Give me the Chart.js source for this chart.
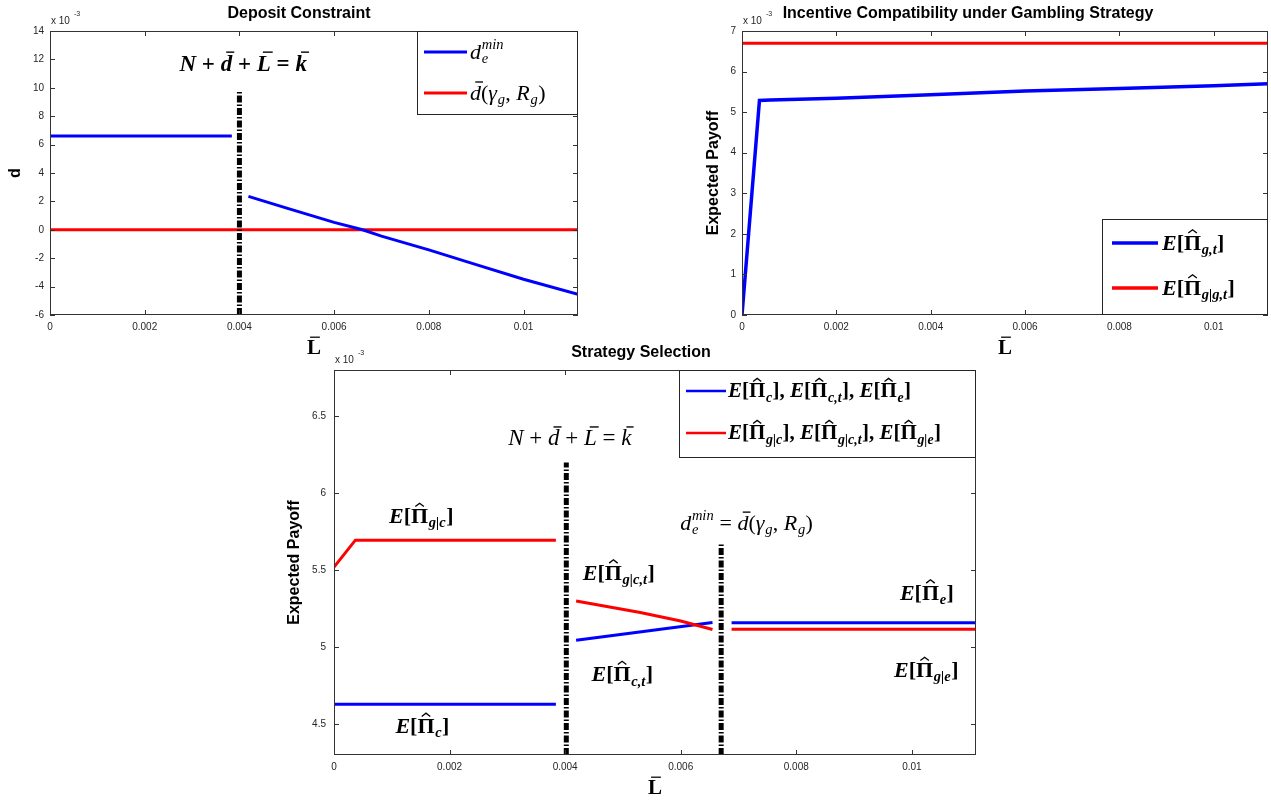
<!DOCTYPE html>
<html><head><meta charset="utf-8">
<script src="https://cdn.jsdelivr.net/npm/chart.js@4/dist/chart.umd.min.js"></script>
<style>
html,body{margin:0;padding:0;background:#fff;width:1271px;height:800px;overflow:hidden;position:relative}
canvas{position:absolute}
</style></head><body>
<canvas id="c1" width="620" height="355" style="left:0px;top:0px;width:620px;height:355px"></canvas>
<canvas id="c2" width="591" height="355" style="left:680px;top:0px;width:591px;height:355px"></canvas>
<canvas id="c3" width="740" height="462" style="left:260px;top:338px;width:740px;height:462px"></canvas>
<script>
// ---------- data (y values in units of 10^-3) ----------
const xTicks = [0, 0.002, 0.004, 0.006, 0.008, 0.01];
const xTickLabels = ['0', '0.002', '0.004', '0.006', '0.008', '0.01'];
const xMax = 0.01115;

// Plot 1: Deposit Constraint
const p1YTicks = [-6, -4, -2, 0, 2, 4, 6, 8, 10, 12, 14];
const p1YTickLabels = ['-6', '-4', '-2', '0', '2', '4', '6', '8', '10', '12', '14'];
const p1BlueAX = [0, 0.00384];
const p1BlueAY = [6.6, 6.6];
const p1BlueBX = [0.00419, 0.005, 0.006, 0.0066, 0.007, 0.008, 0.009, 0.01, 0.01115];
const p1BlueBY = [2.35, 1.53, 0.52, 0.0, -0.45, -1.41, -2.45, -3.48, -4.54];
const p1RedX = [0, 0.01115];
const p1RedY = [0.0, 0.0];
const p1KX = [0.004, 0.004];
const p1KY = [-6, 9.7];

// Plot 2: Incentive Compatibility under Gambling Strategy
const p2YTicks = [0, 1, 2, 3, 4, 5, 6, 7];
const p2YTickLabels = ['0', '1', '2', '3', '4', '5', '6', '7'];
const p2BlueX = [0, 0.00037, 0.0006, 0.002, 0.004, 0.006, 0.008, 0.01, 0.01115];
const p2BlueY = [0, 5.29, 5.30, 5.34, 5.43, 5.52, 5.58, 5.65, 5.70];
const p2RedX = [0, 0.01115];
const p2RedY = [6.7, 6.7];

// Plot 3: Strategy Selection
const p3YTicks = [4.5, 5, 5.5, 6, 6.5];
const p3YTickLabels = ['4.5', '5', '5.5', '6', '6.5'];
const p3BlueCX = [0, 0.00384];
const p3BlueCY = [4.63, 4.63];
const p3RedCX = [0, 0.00037, 0.00384];
const p3RedCY = [5.52, 5.695, 5.695];
const p3RedCtX = [0.00419, 0.0053, 0.006, 0.00655];
const p3RedCtY = [5.30, 5.225, 5.17, 5.115];
const p3BlueCtX = [0.00419, 0.00655];
const p3BlueCtY = [5.045, 5.16];
const p3BlueEX = [0.00688, 0.01115];
const p3BlueEY = [5.158, 5.158];
const p3RedEX = [0.00688, 0.01115];
const p3RedEY = [5.117, 5.117];
const p3K1X = [0.00402, 0.00402];
const p3K1Y = [4.3, 6.2];
const p3K2X = [0.0067, 0.0067];
const p3K2Y = [4.3, 5.68];

// ---------- helpers ----------
Chart.defaults.font.family = '"Liberation Sans", Arial, sans-serif';
Chart.defaults.font.size = 10;
Chart.defaults.color = '#262626';

const BLUE = '#0000ff', RED = '#ff0000', BLACK = '#000000';
function pts(xs, ys) { return xs.map((x, i) => ({x: x, y: ys[i]})); }
function ln(xs, ys, color, width, dash, cap) {
  return {data: pts(xs, ys), borderColor: color, borderWidth: width, borderDash: dash || [],
    borderCapStyle: cap || 'butt', pointRadius: 0, fill: false, tension: 0, showLine: true};
}

function mfont(size, p) {
  return (p.i ? 'italic ' : '') + (p.b ? 'bold ' : '') + size.toFixed(1) + 'px "Liberation Serif", "DejaVu Serif", serif';
}
const I = (t, o) => Object.assign({t: t, i: true, b: true}, o || {});
const R = (t, o) => Object.assign({t: t, i: false, b: true}, o || {});
const Il = (t, o) => Object.assign({t: t, i: true, b: false}, o || {});
const Rl = (t, o) => Object.assign({t: t, i: false, b: false}, o || {});
const EPi = sub => [I('E'), R('['), R('\u03A0', {acc: 'hat', sub: sub}), R(']')];

function partW(ctx, p, size) {
  ctx.font = mfont(size, p);
  const w = ctx.measureText(p.t).width;
  let ex = 0;
  const sf = {i: true, b: p.b};
  if (p.sub) { ctx.font = mfont(size * 0.66, sf); ex = Math.max(ex, ctx.measureText(p.sub).width); }
  if (p.sup) { ctx.font = mfont(size * 0.66, sf); ex = Math.max(ex, ctx.measureText(p.sup).width); }
  return {w: w, ex: ex, tot: w + (ex ? ex + size * 0.05 : 0)};
}
function drawMath(ctx, parts, x, y, size, align, color) {
  const ws = parts.map(p => partW(ctx, p, size));
  const total = ws.reduce((a, b) => a + b.tot, 0);
  let cx = align === 'center' ? x - total / 2 : (align === 'right' ? x - total : x);
  ctx.fillStyle = color || BLACK; ctx.strokeStyle = color || BLACK;
  ctx.textBaseline = 'alphabetic'; ctx.textAlign = 'left';
  parts.forEach((p, k) => {
    const m = ws[k];
    ctx.font = mfont(size, p);
    ctx.fillText(p.t, cx, y);
    if (p.acc === 'bar') {
      const sl = p.i ? size * 0.13 : 0;
      ctx.lineWidth = Math.max(1, size * 0.06);
      ctx.beginPath();
      ctx.moveTo(cx + m.w * 0.22 + sl, y - size * 0.8);
      ctx.lineTo(cx + m.w * 0.92 + sl, y - size * 0.8);
      ctx.stroke();
    } else if (p.acc === 'hat') {
      ctx.lineWidth = Math.max(1, size * 0.06);
      ctx.beginPath();
      ctx.moveTo(cx + m.w * 0.25, y - size * 0.75);
      ctx.lineTo(cx + m.w * 0.5, y - size * 0.9);
      ctx.lineTo(cx + m.w * 0.75, y - size * 0.75);
      ctx.stroke();
    }
    const sf = {i: true, b: p.b};
    if (p.sub) { ctx.font = mfont(size * 0.66, sf); ctx.fillText(p.sub, cx + m.w + size * 0.03, y + size * 0.2); }
    if (p.sup) { ctx.font = mfont(size * 0.66, sf); ctx.fillText(p.sup, cx + m.w + size * 0.03, y - size * 0.42); }
    cx += m.tot;
  });
}

const decoMap = {};
const decoPlugin = {
  id: 'deco',
  afterDraw(chart) {
    const cfg = decoMap[chart.canvas.id];
    if (!cfg) return;
    const ctx = chart.ctx, a = chart.chartArea, xs = chart.scales.x, ys = chart.scales.y;
    const ox = cfg.ox, oy = cfg.oy;
    ctx.save();
    // axes box and inward ticks
    ctx.strokeStyle = '#333333'; ctx.lineWidth = 1;
    ctx.strokeRect(a.left + 0.5, a.top + 0.5, a.right - a.left - 1, a.bottom - a.top - 1);
    ctx.beginPath();
    xTicks.forEach(v => {
      const px = Math.round(xs.getPixelForValue(v)) + 0.5;
      ctx.moveTo(px, a.bottom); ctx.lineTo(px, a.bottom - 5);
      ctx.moveTo(px, a.top); ctx.lineTo(px, a.top + 5);
    });
    cfg.yTicks.forEach(v => {
      const py = Math.round(ys.getPixelForValue(v)) + 0.5;
      ctx.moveTo(a.left, py); ctx.lineTo(a.left + 5, py);
      ctx.moveTo(a.right, py); ctx.lineTo(a.right - 5, py);
    });
    ctx.stroke();
    // exponent label
    ctx.fillStyle = '#262626'; ctx.textAlign = 'left'; ctx.textBaseline = 'alphabetic';
    ctx.font = '10px "Liberation Sans", Arial, sans-serif';
    ctx.fillText('x 10', a.left + 1, a.top - 7);
    const w10 = ctx.measureText('x 10').width;
    ctx.font = '7px "Liberation Sans", Arial, sans-serif';
    ctx.fillText('-3', a.left + w10 + 5, a.top - 15);
    // title
    ctx.fillStyle = BLACK; ctx.textAlign = 'center';
    ctx.font = 'bold 16px "Liberation Sans", Arial, sans-serif';
    ctx.fillText(cfg.title, cfg.titleX - ox, cfg.titleY - oy);
    // y-axis label
    ctx.save();
    ctx.translate(cfg.yLabelX - ox, (a.top + a.bottom) / 2);
    ctx.rotate(-Math.PI / 2);
    ctx.textBaseline = 'middle';
    ctx.font = 'bold 16px "Liberation Sans", Arial, sans-serif';
    ctx.fillText(cfg.yLabel, 0, 0);
    ctx.restore();
    // x-axis label  L-bar
    drawMath(ctx, [R('L', {acc: 'bar'})], (a.left + a.right) / 2, a.bottom + 39, 21, 'center');
    // annotations (data coordinates)
    cfg.annots.forEach(an => {
      const px = xs.getPixelForValue(an.x), py = ys.getPixelForValue(an.y);
      drawMath(ctx, an.parts, px, py + an.size * 0.33, an.size, 'center');
    });
    // legend
    const L = cfg.legend;
    const lx = L.x - ox, ly = L.y - oy;
    ctx.fillStyle = '#ffffff';
    ctx.fillRect(lx, ly, L.w, L.h);
    ctx.strokeStyle = '#262626'; ctx.lineWidth = 1;
    ctx.strokeRect(lx + 0.5, ly + 0.5, L.w - 1, L.h - 1);
    L.items.forEach((it, k) => {
      const ry = ly + L.rows[k];
      ctx.strokeStyle = it.color; ctx.lineWidth = L.lw; ctx.setLineDash([]);
      ctx.beginPath(); ctx.moveTo(lx + L.l0, ry); ctx.lineTo(lx + L.l1, ry); ctx.stroke();
      drawMath(ctx, it.parts, lx + L.tx, ry + L.size * 0.3, L.size, 'left');
    });
    ctx.restore();
  }
};

function makeChart(id, cfg) {
  decoMap[id] = cfg;
  const cv = document.getElementById(id);
  const W = cv.width, H = cv.height;
  const yW = cfg.area.l - cfg.ox, padTop = cfg.area.t - cfg.oy;
  const padRight = (cfg.ox + W) - cfg.area.r, xH = (cfg.oy + H) - cfg.area.b;
  return new Chart(cv, {
    type: 'line',
    data: {datasets: cfg.datasets},
    options: {
      responsive: false, animation: false, devicePixelRatio: 1, events: [],
      layout: {padding: {top: padTop, right: padRight, left: 0, bottom: 0}},
      plugins: {legend: {display: false}, tooltip: {enabled: false}, title: {display: false}},
      scales: {
        x: {type: 'linear', min: 0, max: cfg.xMax,
          grid: {display: false, drawTicks: false}, border: {display: false},
          ticks: {padding: cfg.xPad, maxRotation: 0, autoSkip: false, color: '#262626',
            callback: (v) => { const k = xTicks.indexOf(v); return k < 0 ? '' : xTickLabels[k]; }},
          afterBuildTicks: (s) => { s.ticks = xTicks.map(v => ({value: v})); },
          afterFit: (s) => { s.height = xH; }},
        y: {type: 'linear', min: cfg.yMin, max: cfg.yMax,
          grid: {display: false, drawTicks: false}, border: {display: false},
          ticks: {padding: cfg.yPad, autoSkip: false, color: '#262626',
            callback: (v) => { const k = cfg.yTicks.indexOf(v); return k < 0 ? '' : cfg.yTickLabels[k]; }},
          afterBuildTicks: (s) => { s.ticks = cfg.yTicks.map(v => ({value: v})); },
          afterFit: (s) => { s.width = yW; }}
      }
    },
    plugins: [decoPlugin]
  });
}

// ---------- Plot 1 ----------
makeChart('c1', {
  ox: 0, oy: 0, area: {l: 50, t: 31, r: 578, b: 315},
  xMax: xMax, yMin: -6, yMax: 14, yTicks: p1YTicks, yTickLabels: p1YTickLabels, xPad: 6, yPad: 6,
  datasets: [
    ln(p1KX, p1KY, BLACK, 5, [7, 2, 1.5, 2], 'butt'),
    ln(p1BlueAX, p1BlueAY, BLUE, 3),
    ln(p1BlueBX, p1BlueBY, BLUE, 3),
    ln(p1RedX, p1RedY, RED, 3)
  ],
  title: 'Deposit Constraint', titleX: 299, titleY: 18,
  yLabel: 'd', yLabelX: 16,
  annots: [
    {x: 0.00408, y: 11.75, size: 23,
     parts: [I('N'), R(' + '), I('d', {acc: 'bar'}), R(' + '), I('L', {acc: 'bar'}), R(' = '), I('k', {acc: 'bar'})]}
  ],
  legend: {x: 417, y: 31, w: 161, h: 84, rows: [21, 62], l0: 7, l1: 50, tx: 53, lw: 3, size: 22,
    items: [
      {color: BLUE, parts: [Il('d', {sub: 'e', sup: 'min'})]},
      {color: RED, parts: [Il('d', {acc: 'bar'}), Rl('('), Il('\u03B3', {sub: 'g'}), Rl(', '), Il('R', {sub: 'g'}), Rl(')')]}
    ]}
});

// ---------- Plot 2 ----------
makeChart('c2', {
  ox: 680, oy: 0, area: {l: 742, t: 31, r: 1268, b: 315},
  xMax: xMax, yMin: 0, yMax: 7, yTicks: p2YTicks, yTickLabels: p2YTickLabels, xPad: 6, yPad: 6,
  datasets: [
    ln(p2BlueX, p2BlueY, BLUE, 3.5),
    ln(p2RedX, p2RedY, RED, 3)
  ],
  title: 'Incentive Compatibility under Gambling Strategy', titleX: 968, titleY: 18,
  yLabel: 'Expected Payoff', yLabelX: 714,
  annots: [],
  legend: {x: 1102, y: 219, w: 166, h: 96, rows: [24, 69], l0: 10, l1: 56, tx: 60, lw: 3.5, size: 22,
    items: [
      {color: BLUE, parts: EPi('g,t')},
      {color: RED, parts: EPi('g|g,t')}
    ]}
});

// ---------- Plot 3 ----------
makeChart('c3', {
  ox: 260, oy: 338, area: {l: 334, t: 370, r: 976, b: 755},
  xMax: 0.01111, yMin: 4.3, yMax: 6.8, yTicks: p3YTicks, yTickLabels: p3YTickLabels, xPad: 6, yPad: 8,
  datasets: [
    ln(p3K1X, p3K1Y, BLACK, 5, [7, 2, 1.5, 2], 'butt'),
    ln(p3K2X, p3K2Y, BLACK, 5, [7, 2, 1.5, 2], 'butt'),
    ln(p3BlueCX, p3BlueCY, BLUE, 3),
    ln(p3RedCX, p3RedCY, RED, 3),
    ln(p3RedCtX, p3RedCtY, RED, 3),
    ln(p3BlueCtX, p3BlueCtY, BLUE, 3),
    ln(p3BlueEX, p3BlueEY, BLUE, 3),
    ln(p3RedEX, p3RedEY, RED, 3)
  ],
  title: 'Strategy Selection', titleX: 641, titleY: 357,
  yLabel: 'Expected Payoff', yLabelX: 295,
  annots: [
    {x: 0.00408, y: 6.36, size: 23,
     parts: [Il('N'), Rl(' + '), Il('d', {acc: 'bar'}), Rl(' + '), Il('L', {acc: 'bar'}), Rl(' = '), Il('k', {acc: 'bar'})]},
    {x: 0.00714, y: 5.81, size: 22,
     parts: [Il('d', {sub: 'e', sup: 'min'}), Rl(' = '), Il('d', {acc: 'bar'}), Rl('('), Il('\u03B3', {sub: 'g'}), Rl(', '), Il('R', {sub: 'g'}), Rl(')')]},
    {x: 0.00151, y: 5.853, size: 22, parts: EPi('g|c')},
    {x: 0.00153, y: 4.49, size: 22, parts: EPi('c')},
    {x: 0.00493, y: 5.486, size: 22, parts: EPi('g|c,t')},
    {x: 0.00499, y: 4.827, size: 22, parts: EPi('c,t')},
    {x: 0.01026, y: 5.356, size: 22, parts: EPi('e')},
    {x: 0.01025, y: 4.853, size: 22, parts: EPi('g|e')}
  ],
  legend: {x: 679, y: 370, w: 297, h: 88, rows: [21, 63], l0: 7, l1: 47, tx: 49, lw: 2.5, size: 21,
    items: [
      {color: BLUE, parts: [].concat(EPi('c'), [R(', ')], EPi('c,t'), [R(', ')], EPi('e'))},
      {color: RED, parts: [].concat(EPi('g|c'), [R(', ')], EPi('g|c,t'), [R(', ')], EPi('g|e'))}
    ]}
});
</script>
</body></html>
